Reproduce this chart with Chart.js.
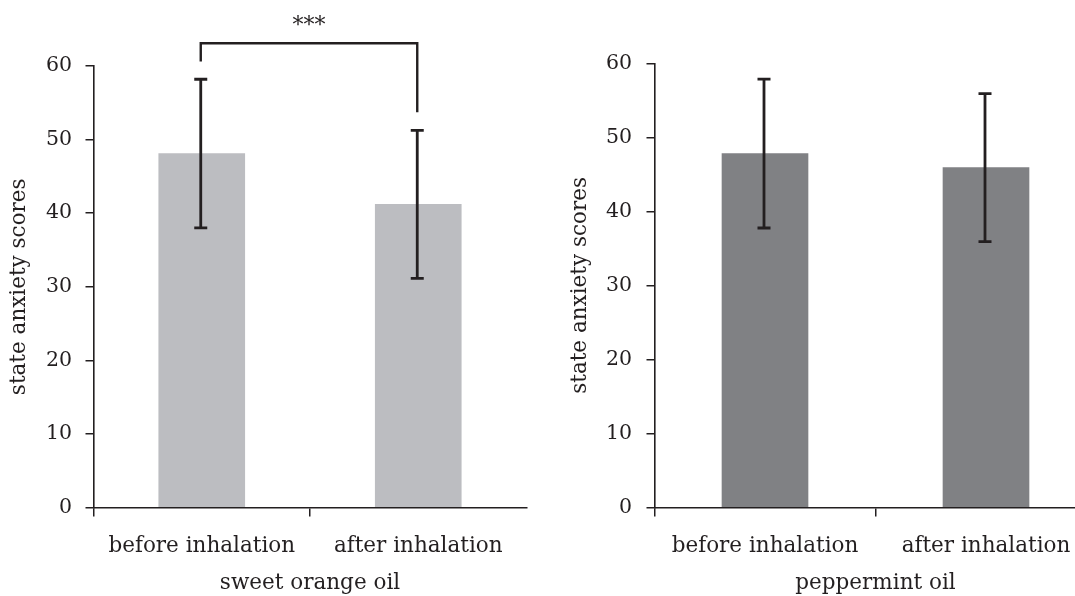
<!DOCTYPE html>
<html><head><meta charset="utf-8">
<script src="https://cdn.jsdelivr.net/npm/chart.js@4"></script>
<style>
html,body{margin:0;padding:0;overflow:hidden;background:#fff;width:1075px;height:596px}
#cL{position:absolute;left:0;top:0}
#cR{position:absolute;left:540px;top:0}
</style></head><body>
<canvas id="cL" width="540" height="596"></canvas>
<canvas id="cR" width="570" height="596"></canvas>
<script>
const categories = ['before inhalation', 'after inhalation'];
const orangeMeans = [48.1, 41.2];
const orangeSD = [10.1, 10.05];
const pepperMeans = [47.8, 45.9];
const pepperSD = [10.05, 10.0];
const yTicks = [0, 10, 20, 30, 40, 50, 60];
const groupTitles = ['sweet orange oil', 'peppermint oil'];
const yTitle = 'state anxiety scores';
const sigLabel = '***';
const sigBracket = [60.6, 63.1, 53.7]; // left end, top line, right end (value units)
const sigLabelValue = 66.0;

const INK = '#231f20';
const FONT = "'DejaVu Serif', 'Liberation Serif', serif";

const errorBars = {
  id: 'errorBars',
  afterDatasetsDraw(chart, args, opts) {
    const { ctx, scales: { x, y } } = chart;
    const means = chart.data.datasets[0].data;
    const sds = opts.sd;
    ctx.save();
    ctx.strokeStyle = INK; ctx.lineWidth = 2.8; ctx.lineCap = 'butt';
    means.forEach((m, i) => {
      const px = x.getPixelForValue(i) - 1;
      const t = y.getPixelForValue(m + sds[i]);
      const b = y.getPixelForValue(m - sds[i]);
      ctx.beginPath();
      ctx.moveTo(px, t); ctx.lineTo(px, b);
      ctx.moveTo(px - 6.5, t); ctx.lineTo(px + 6.5, t);
      ctx.moveTo(px - 6.5, b); ctx.lineTo(px + 6.5, b);
      ctx.stroke();
    });
    ctx.restore();
  }
};

const bracket = {
  id: 'bracket',
  afterDraw(chart, args, opts) {
    if (!opts.show) return;
    const { ctx, scales: { x, y } } = chart;
    const x0 = x.getPixelForValue(0) - 1, x1 = x.getPixelForValue(1) - 1;
    ctx.save();
    ctx.strokeStyle = INK; ctx.lineWidth = 2.4;
    ctx.beginPath();
    ctx.moveTo(x0, y.getPixelForValue(sigBracket[0]));
    ctx.lineTo(x0, y.getPixelForValue(sigBracket[1]));
    ctx.lineTo(x1, y.getPixelForValue(sigBracket[1]));
    ctx.lineTo(x1, y.getPixelForValue(sigBracket[2]));
    ctx.stroke();
    ctx.fillStyle = INK;
    ctx.font = '22px ' + FONT;
    ctx.textAlign = 'center'; ctx.textBaseline = 'middle';
    ctx.fillText(sigLabel, (x0 + x1) / 2, y.getPixelForValue(sigLabelValue) + 4);
    ctx.restore();
  }
};

function makeChart(id, means, sds, color, title, o) {
  return new Chart(document.getElementById(id), {
    type: 'bar',
    data: {
      labels: categories,
      datasets: [{ data: means, backgroundColor: color, borderWidth: 0, barThickness: 86 }]
    },
    plugins: [errorBars, bracket],
    options: {
      responsive: false,
      animation: false,
      layout: { padding: { left: 0, top: o.top, right: o.right, bottom: 0 } },
      plugins: {
        legend: { display: false }, tooltip: { enabled: false },
        errorBars: { sd: sds },
        bracket: { show: o.bracket }
      },
      scales: {
        x: {
          type: 'category',
          offset: true,
          grid: {
            offset: true, drawOnChartArea: false, drawTicks: true, tickLength: 9,
            color: c => c.type === 'tick' ? INK : 'rgba(0,0,0,0)', lineWidth: 1.5
          },
          border: { display: true, color: INK, width: 1.6 },
          ticks: { color: INK, font: { family: FONT, size: 21.5 }, padding: 17.5, maxRotation: 0, autoSkip: false },
          title: { display: true, text: title, color: INK, font: { family: FONT, size: 21.5 }, padding: { top: 0, bottom: 0 } },
          afterFit: s => { s.height = 88.5; }
        },
        y: {
          min: 0, max: 60,
          afterBuildTicks: s => { s.ticks = yTicks.map(v => ({ value: v })); },
          grid: { drawOnChartArea: false, drawTicks: true, tickLength: 8, color: INK, lineWidth: 1.5 },
          border: { display: true, color: INK, width: 1.6 },
          ticks: { color: INK, font: { family: FONT, size: 20.5 }, padding: o.tickPad },
          title: { display: true, text: yTitle, color: INK, font: { family: FONT, size: 21.5 }, padding: { top: o.titlePad, bottom: 0 } },
          afterFit: s => { s.width = o.yWidth; }
        }
      }
    }
  });
}

makeChart('cL', orangeMeans, orangeSD, '#bcbdc1', groupTitles[0], { top: 66, right: 13.5, yWidth: 93.5, tickPad: 13.5, titlePad: 6.1, bracket: true });
makeChart('cR', pepperMeans, pepperSD, '#808184', groupTitles[1], { top: 63.3, right: 13.5, yWidth: 114.5, tickPad: 14.5, titlePad: 27.1, bracket: false });
</script>
</body></html>
